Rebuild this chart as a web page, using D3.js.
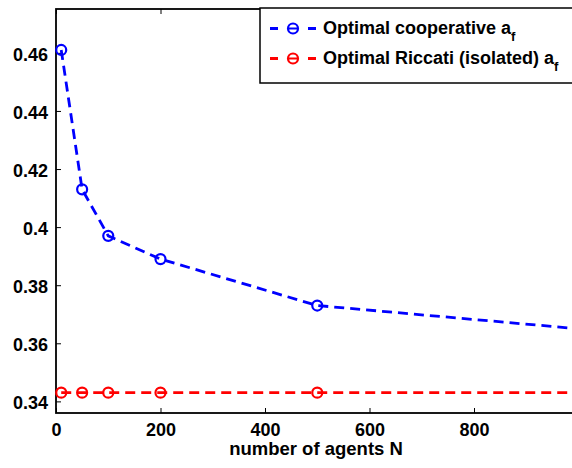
<!DOCTYPE html>
<html>
<head>
<meta charset="utf-8">
<script src="https://cdn.jsdelivr.net/npm/d3@7"></script>
<style>
body { margin: 0; background: #fff; }
text { font-family: "Liberation Sans", Arial, sans-serif; font-weight: bold; }
</style>
</head>
<body>
<div id="chart"></div>
<script>
let width = 572
let height = 468

let agents = [10, 50, 100, 200, 500, 1000]
let cooperative = [0.461, 0.413, 0.397, 0.389, 0.373, 0.365]
let riccati = [0.343, 0.343, 0.343, 0.343, 0.343, 0.343]
let xTicks = [0, 200, 400, 600, 800, 1000]
let xTickLabels = ["0", "200", "400", "600", "800", ""]
let yTicks = [0.34, 0.36, 0.38, 0.4, 0.42, 0.44, 0.46]
let yTickLabels = ["0.34", "0.36", "0.38", "0.4", "0.42", "0.44", "0.46"]

let plotLeft = 56
let plotRight = 578.5
let plotTop = 9
let plotBottom = 413
let fontSize = 18

let svg = d3.select("#chart")
    .append("svg")
    .attr("width", width)
    .attr("height", height)

let xScale = d3.scaleLinear().domain([0, 1000]).range([plotLeft, plotRight])
let yScale = d3.scaleLinear().domain([0.336, 0.4751]).range([plotBottom, plotTop])

// ticks pointing inward, on all four sides
svg.append("g")
    .attr("transform", `translate(0, ${plotBottom})`)
    .call(d3.axisBottom(xScale).tickValues(xTicks).tickSizeInner(-5).tickSizeOuter(0).tickPadding(10).tickFormat((d, i) => xTickLabels[i]))
    .call(g => g.select(".domain").remove())
    .selectAll("text").attr("font-size", fontSize).attr("font-family", null).attr("fill", "#000")

svg.append("g")
    .attr("transform", `translate(0, ${plotTop})`)
    .call(d3.axisTop(xScale).tickValues(xTicks).tickSizeInner(-5).tickSizeOuter(0).tickFormat(""))
    .call(g => g.select(".domain").remove())

svg.append("g")
    .attr("transform", `translate(${plotLeft}, 0)`)
    .call(d3.axisLeft(yScale).tickValues(yTicks).tickSizeInner(-5).tickSizeOuter(0).tickPadding(8).tickFormat((d, i) => yTickLabels[i]))
    .call(g => g.select(".domain").remove())
    .selectAll("text").attr("font-size", fontSize).attr("font-family", null).attr("fill", "#000").attr("dy", "0.42em")

svg.append("g")
    .attr("transform", `translate(${plotRight}, 0)`)
    .call(d3.axisRight(yScale).tickValues(yTicks).tickSizeInner(-5).tickSizeOuter(0).tickFormat(""))
    .call(g => g.select(".domain").remove())

svg.selectAll(".tick line").attr("stroke", "#000").attr("stroke-width", 1)

svg.append("rect")
    .attr("x", plotLeft)
    .attr("y", plotTop)
    .attr("width", plotRight - plotLeft)
    .attr("height", plotBottom - plotTop)
    .attr("fill", "none")
    .attr("stroke", "#000")
    .attr("stroke-width", 1.8)

let line = d3.line()
    .x((d, i) => xScale(agents[i]))
    .y(d => yScale(d))

let series = [
    {values: cooperative, color: "#0000ff", label: "Optimal cooperative a"},
    {values: riccati, color: "#ff0000", label: "Optimal Riccati (isolated) a"}
]

series.forEach(s => {
    svg.append("path")
        .attr("d", line(s.values))
        .attr("fill", "none")
        .attr("stroke", s.color)
        .attr("stroke-width", 2.8)
        .attr("stroke-dasharray", "10,6")

    svg.selectAll(null)
        .data(s.values)
        .enter()
        .append("circle")
        .attr("cx", (d, i) => xScale(agents[i]))
        .attr("cy", d => yScale(d))
        .attr("r", 5)
        .attr("fill", "none")
        .attr("stroke", s.color)
        .attr("stroke-width", 2.2)
})

// legend
let legend = svg.append("g").attr("transform", "translate(260, 8)")

legend.append("rect")
    .attr("width", 340)
    .attr("height", 75)
    .attr("fill", "#fff")
    .attr("stroke", "#000")
    .attr("stroke-width", 1.5)

series.forEach((s, i) => {
    let y = 20.5 + i * 30
    legend.append("line")
        .attr("x1", 10).attr("x2", 56)
        .attr("y1", y).attr("y2", y)
        .attr("stroke", s.color)
        .attr("stroke-width", 2.8)
        .attr("stroke-dasharray", "8,30")
    legend.append("circle")
        .attr("cx", 33).attr("cy", y).attr("r", 5)
        .attr("fill", "none")
        .attr("stroke", s.color)
        .attr("stroke-width", 2.2)
    legend.append("line")
        .attr("x1", 28).attr("x2", 38)
        .attr("y1", y).attr("y2", y)
        .attr("stroke", s.color)
        .attr("stroke-width", 2)
    let t = legend.append("text")
        .attr("x", 63)
        .attr("y", y + 5.5)
        .attr("font-size", fontSize)
        .text(s.label)
    t.append("tspan")
        .attr("dy", 7)
        .attr("font-size", 13)
        .text("f")
})

svg.append("text")
    .attr("x", 316)
    .attr("y", 455)
    .attr("text-anchor", "middle")
    .attr("font-size", 18.5)
    .text("number of agents N")
</script>
</body>
</html>
